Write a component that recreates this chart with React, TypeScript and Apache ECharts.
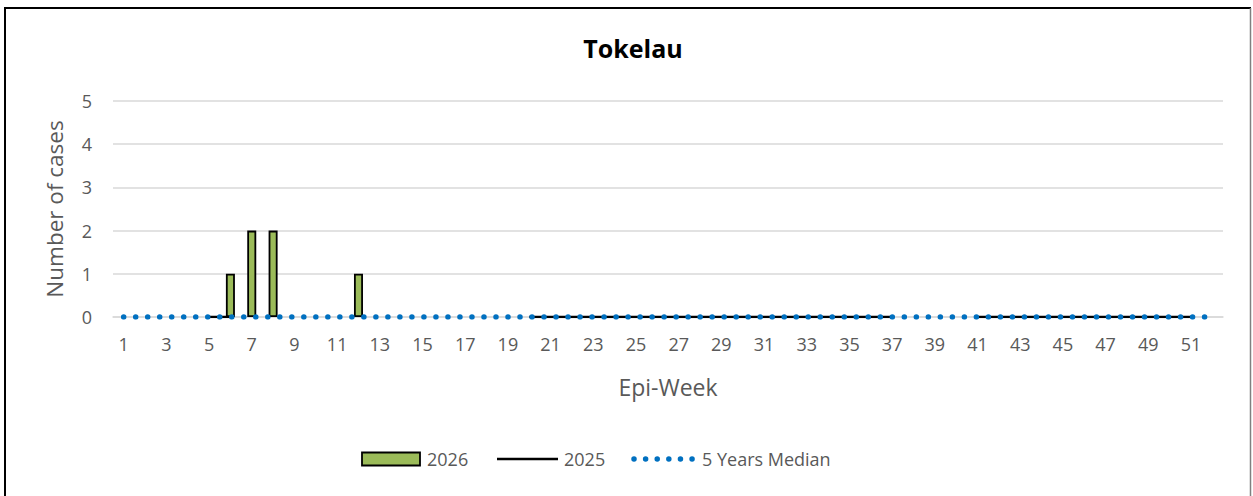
import React, { useEffect, useRef } from "react";
import * as echarts from "echarts";

const weeks: string[] = Array.from({ length: 52 }, (_, i) => String(i + 1));

// 2026 cases (bars)
const cases2026: (number | null)[] = [
  null, null, null, null, null, 1, 2, 2, null, null, null, 1, null,
  null, null, null, null, null, null, null, null, null, null, null, null, null,
  null, null, null, null, null, null, null, null, null, null, null, null, null,
  null, null, null, null, null, null, null, null, null, null, null, null, null,
];

// 2025 cases (black line)
const cases2025: (number | null)[] = [
  null, null, null, null, 0, 0, null, null, null, null, null, null, null,
  null, null, null, null, null, null, 0, 0, 0, 0, 0, 0, 0,
  0, 0, 0, 0, 0, 0, 0, 0, 0, 0, 0, null, null,
  null, 0, 0, 0, 0, 0, 0, 0, 0, 0, 0, 0, null,
];

// 5 Years Median (dotted line)
const median5y: number[] = [
  0, 0, 0, 0, 0, 0, 0, 0, 0, 0, 0, 0, 0,
  0, 0, 0, 0, 0, 0, 0, 0, 0, 0, 0, 0, 0,
  0, 0, 0, 0, 0, 0, 0, 0, 0, 0, 0, 0, 0,
  0, 0, 0, 0, 0, 0, 0, 0, 0, 0, 0, 0, 0,
];

const legendLabels: string[] = ["2026", "2025", "5 Years Median"];

const yTicks = { min: 0, max: 5, interval: 1 };

const FONT = "'Open Sans', 'Noto Sans', sans-serif";
const GREY = "#595959";
const GREEN = "#9BBB59";
const BLUE = "#0070C0";
const DOT_DASH = [0.01, 12];

export default function App() {
  const ref = useRef<HTMLDivElement>(null);

  useEffect(() => {
    if (!ref.current) return;
    const chart = echarts.init(ref.current, undefined, { renderer: "svg" });
    const legendY = 459;
    const legendText = (x: number, text: string) => ({
      type: "text",
      x,
      y: legendY,
      style: {
        text,
        fontFamily: FONT,
        fontSize: 18,
        fill: GREY,
        textVerticalAlign: "middle",
        verticalAlign: "middle",
        align: "left",
      },
    });
    chart.setOption({
      animation: false,
      backgroundColor: "#ffffff",
      textStyle: { fontFamily: FONT },
      title: {
        text: "Tokelau",
        left: 628,
        textAlign: "center",
        top: 30,
        textStyle: { fontFamily: FONT, fontSize: 25, fontWeight: "bold", color: "#000000" },
      },
      grid: { left: 113, right: 30, top: 101, bottom: 179, containLabel: false },
      legend: { show: false },
      xAxis: {
        type: "category",
        data: weeks,
        boundaryGap: true,
        name: "Epi-Week",
        nameLocation: "middle",
        nameGap: 58,
        nameTextStyle: { fontFamily: FONT, fontSize: 23, color: GREY },
        axisLine: { show: true, lineStyle: { color: "#D9D9D9", width: 1.5 } },
        axisTick: { show: false },
        axisLabel: { interval: 1, fontFamily: FONT, fontSize: 18, color: GREY, margin: 18 },
      },
      yAxis: {
        type: "value",
        min: yTicks.min,
        max: yTicks.max,
        interval: yTicks.interval,
        name: "Number of cases",
        nameLocation: "middle",
        nameGap: 47,
        nameTextStyle: { fontFamily: FONT, fontSize: 22.5, color: GREY },
        axisLine: { show: false },
        axisTick: { show: false },
        axisLabel: { fontFamily: FONT, fontSize: 18, color: GREY, margin: 21 },
        splitLine: { lineStyle: { color: "#D9D9D9", width: 1.5 } },
      },
      series: [
        {
          name: legendLabels[0],
          type: "bar",
          data: cases2026,
          barWidth: 9,
          z: 2,
          itemStyle: { color: GREEN, borderColor: "#000000", borderWidth: 1.8 },
        },
        {
          name: legendLabels[1],
          type: "line",
          data: cases2025,
          symbol: "none",
          connectNulls: false,
          z: 1,
          lineStyle: { color: "#000000", width: 2.5 },
          itemStyle: { color: "#000000" },
        },
        {
          name: legendLabels[2],
          type: "line",
          data: median5y,
          symbol: "none",
          z: 3,
          lineStyle: { color: BLUE, width: 5.5, type: DOT_DASH, cap: "round" },
          itemStyle: { color: BLUE },
        },
      ],
      graphic: [
        { type: "line", shape: { x1: 4, y1: 8, x2: 1251, y2: 8 }, style: { stroke: "#000000", lineWidth: 2 } },
        { type: "line", shape: { x1: 5, y1: 7, x2: 5, y2: 496 }, style: { stroke: "#000000", lineWidth: 2 } },
        { type: "line", shape: { x1: 1250.5, y1: 8, x2: 1250.5, y2: 496 }, style: { stroke: "#808080", lineWidth: 1.5 } },
        // legend
        {
          type: "rect",
          shape: { x: 362, y: legendY - 6.5, width: 58, height: 13 },
          style: { fill: GREEN, stroke: "#000000", lineWidth: 1.8 },
        },
        legendText(427, legendLabels[0]),
        {
          type: "line",
          shape: { x1: 497, y1: legendY, x2: 558, y2: legendY },
          style: { stroke: "#000000", lineWidth: 2.5 },
        },
        legendText(564, legendLabels[1]),
        {
          type: "line",
          shape: { x1: 634, y1: legendY, x2: 694, y2: legendY },
          style: { stroke: BLUE, lineWidth: 5.5, lineDash: [0.01, 11.6], lineCap: "round" },
        },
        legendText(702, legendLabels[2]),
      ],
    });
    return () => chart.dispose();
  }, []);

  return (
    <div
      ref={ref}
      style={{ position: "absolute", left: 0, top: 0, width: 1253, height: 496 }}
    />
  );
}
